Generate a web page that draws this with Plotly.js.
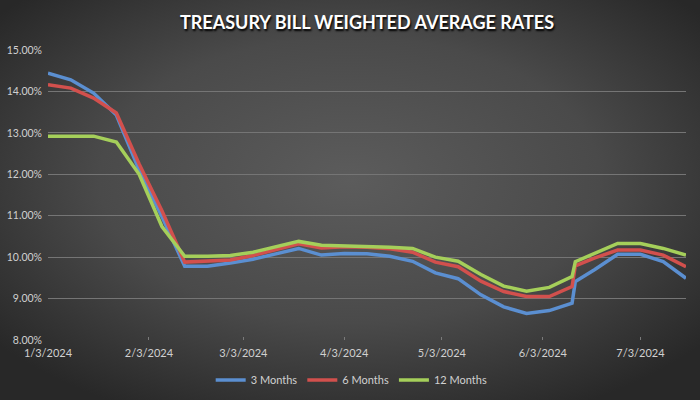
<!DOCTYPE html>
<html>
<head>
<meta charset="utf-8">
<script src="https://cdn.plot.ly/plotly-3.0.1.min.js"></script>
<style>html,body{margin:0;padding:0;background:#3a3a3a;}#chart{width:700px;height:400px;}</style>
</head>
<body>
<div id="chart"></div>
<script>
const dates = ["2024-01-03","2024-01-10","2024-01-17","2024-01-24","2024-01-31",
  "2024-02-07","2024-02-14","2024-02-21","2024-02-28",
  "2024-03-06","2024-03-13","2024-03-20","2024-03-27",
  "2024-04-03","2024-04-10","2024-04-17","2024-04-24",
  "2024-05-01","2024-05-08","2024-05-15","2024-05-22","2024-05-29",
  "2024-06-05","2024-06-12","2024-06-13","2024-06-19","2024-06-26",
  "2024-07-03","2024-07-10","2024-07-17"];
const threeMonths = [14.44,14.28,13.96,13.43,12.10,10.98,9.78,9.78,9.86,
  9.95,10.08,10.21,10.05,10.09,10.08,10.02,9.90,9.62,9.48,9.09,8.80,8.64,8.71,8.89,
  9.41,9.70,10.07,10.07,9.89,9.49];
const sixMonths = [14.16,14.08,13.84,13.48,12.25,11.12,9.88,9.90,9.93,
  10.04,10.17,10.32,10.22,10.25,10.24,10.20,10.12,9.88,9.77,9.42,9.17,9.05,9.05,9.29,
  9.79,9.98,10.17,10.17,10.05,9.77];
const twelveMonths = [12.92,12.92,12.92,12.78,12.00,10.74,10.02,10.02,10.04,
  10.12,10.25,10.38,10.29,10.28,10.27,10.24,10.21,10.00,9.90,9.58,9.30,9.18,9.27,9.53,
  9.89,10.10,10.33,10.33,10.21,10.05];
const tickDates = ["2024-01-03","2024-02-03","2024-03-03","2024-04-03","2024-05-03","2024-06-03","2024-07-03"];
const tickLabels = ["1/3/2024","2/3/2024","3/3/2024","4/3/2024","5/3/2024","6/3/2024","7/3/2024"];
const seriesNames = ["3 Months","6 Months","12 Months"];

const colors = ["#5B8FD1","#D2504D","#A5CF5A"];
const series = [threeMonths, sixMonths, twelveMonths];
const traces = series.map((vals, i) => ({
  type: "scatter", mode: "lines", x: dates, y: vals, name: seriesNames[i],
  line: {color: colors[i], width: 3.5}
}));

const bgSvg = '<svg xmlns="http://www.w3.org/2000/svg" width="700" height="400">' +
  '<defs><radialGradient id="g" cx="50%" cy="45%" r="65%">' +
  '<stop offset="0%" stop-color="#5c5c5c"/><stop offset="55%" stop-color="#4a4a4a"/>' +
  '<stop offset="100%" stop-color="#282828"/></radialGradient></defs>' +
  '<rect width="700" height="400" fill="url(#g)"/></svg>';

const font = "Lato, 'Open Sans', sans-serif";
const layout = {
  width: 700, height: 400,
  margin: {l: 48, r: 14, t: 50, b: 60},
  paper_bgcolor: "#3f3f3f",
  plot_bgcolor: "rgba(0,0,0,0)",
  images: [{source: "data:image/svg+xml;charset=utf-8," + encodeURIComponent(bgSvg),
    xref: "paper", yref: "paper", x: -48/638, y: 1 + 50/290, sizex: 700/638, sizey: 400/290,
    xanchor: "left", yanchor: "top", sizing: "stretch", layer: "below"}],
  title: {text: "TREASURY BILL WEIGHTED AVERAGE RATES", x: 0.5, xref: "paper", xanchor: "center",
    y: 0.943, yref: "container", yanchor: "middle",
    font: {family: font, size: 18, color: "#ffffff", weight: "bold", shadow: "1px 2px 2px #000000"}},
  xaxis: {type: "date", range: ["2024-01-03", "2024-07-17"], tickvals: tickDates, ticktext: tickLabels,
    showgrid: false, zeroline: false, showline: false, ticks: "inside", ticklen: 3, tickcolor: "#7a7a7a",
    ticklabelstandoff: 5,
    tickfont: {family: font, size: 11, color: "#d0d0d0"}, fixedrange: true},
  yaxis: {range: [8, 15], dtick: 1, tick0: 8, tickformat: ".2f", ticksuffix: "%",
    showgrid: true, gridcolor: "#757575", gridwidth: 1, zeroline: false, showline: false,
    ticks: "", ticklabelstandoff: 5, tickfont: {family: font, size: 10.5, color: "#d0d0d0"}, fixedrange: true},
  showlegend: true,
  legend: {orientation: "h", x: 0.476, xanchor: "center", yref: "container", y: 0.05, yanchor: "middle",
    font: {family: font, size: 11, color: "#d0d0d0"}, bgcolor: "rgba(0,0,0,0)"}
};
Plotly.newPlot("chart", traces, layout, {displayModeBar: false, staticPlot: true});
</script>
</body>
</html>
